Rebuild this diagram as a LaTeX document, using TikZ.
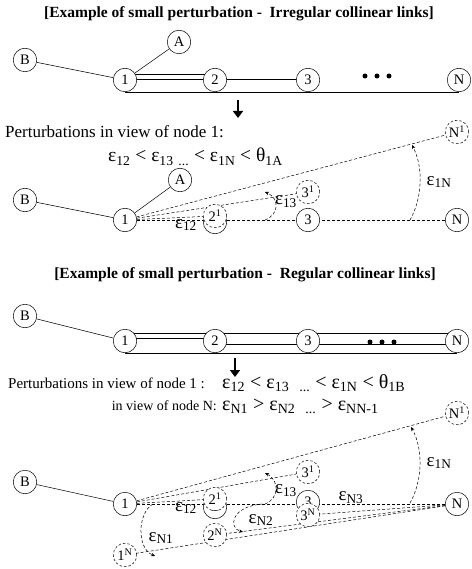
\documentclass[tikz,border=0pt]{standalone}
\usepackage{fontspec}
\setmainfont{Liberation Serif}
\usetikzlibrary{arrows.meta,backgrounds}

\newcommand{\epsub}[1]{ε\textsubscript{#1}}

\begin{document}
\begin{tikzpicture}[x=1pt,y=-1pt,
  every node/.style={font=\fontsize{14.5}{16}\selectfont},
  nd/.style={circle,draw,fill=white,line width=0.5pt,minimum size=23.5pt,inner sep=0pt},
  ghost/.style={nd,dash pattern=on 2.5pt off 2pt},
  lnk/.style={line width=0.5pt},
  dlnk/.style={line width=0.5pt,dash pattern=on 3pt off 2pt},
  ang/.style={dlnk,-{Stealth[length=4pt,width=3.5pt]}},
  dotnd/.style={circle,fill,inner sep=0pt,minimum size=5pt},
  lbl/.style={font=\fontsize{19}{21}\selectfont,inner sep=0pt},
  ttl/.style={font=\bfseries\fontsize{15.5}{17}\selectfont,inner sep=0pt,anchor=base},
  txt/.style={font=\fontsize{17}{19}\selectfont,inner sep=0pt,anchor=base west},
  bigarrow/.style={line width=2.8pt,-{Triangle[length=7pt,width=10pt]}}]
\useasboundingbox (0,0) rectangle (471,569);

% Title of the irregular case
\node[ttl] (t1) at (239,18) {[Example of small perturbation -\ \ Irregular collinear links]};

% Irregular collinear links
\node[nd] (aB) at (25,60) {B};
\node[nd] (aA) at (179,42) {A};
\node[nd] (a1) at (125,80) {1};
\node[nd] (a2) at (215,80) {2};
\node[nd] (a3) at (308,80) {3};
\node[nd] (aN) at (459,80) {N};
\foreach \i/\x in {1/365,2/377,3/389}
  \node[dotnd] (ad\i) at (\x,76) {};
\begin{scope}[on background layer]
\draw[lnk] (aB) -- (a1);
\draw[lnk] (aA) -- (a1);
\draw[lnk] ([yshift=6pt]a1.center) -- ([yshift=6pt]a2.center);
\draw[lnk] ([yshift=1pt]a1.center) -- ([yshift=1pt]a3.center);
\draw[lnk] (a1.south) -- (aN.south);
\end{scope}

\coordinate (ar1s) at (238,100);
\coordinate (ar1e) at (238,118);
\draw[bigarrow] (ar1s) -- (ar1e);

\node[txt] (pv1) at (5,138) {Perturbations in view of node 1:};
\node[txt,font=\fontsize{19.5}{21}\selectfont] (iq1) at (108,162)
  {\epsub{12} < \epsub{13} \textsubscript{...} < \epsub{1N} < θ\textsubscript{1A}};

% Perturbations seen from node 1
\node[nd] (bB) at (25,200) {B};
\node[nd] (bA) at (180,180) {A};
\node[nd] (b1) at (125,220) {1};
\node[nd] (b2) at (215,222) {2};
\node[nd] (b3) at (308,220) {3};
\node[nd] (bN) at (457,220) {N};
\node[ghost] (b2p) at (215,216) {2\textsuperscript{1}};
\node[ghost] (b3p) at (308,192) {3\textsuperscript{1}};
\node[ghost] (bNp) at (457,132) {N\textsuperscript{1}};
\begin{scope}[on background layer]
\draw[lnk] (bB) -- (b1);
\draw[lnk] (bA) -- (b1);
\draw[dlnk] (b1) -- (bN);
\draw[dlnk] (b1) -- (b2p);
\draw[dlnk] (b1) -- (b3p);
\draw[dlnk] (b1) -- (bNp);
\end{scope}
\draw[ang] (265,220) .. controls (280,214) and (279,198) .. (265,192);
\draw[ang] (410,220) .. controls (423,197) and (423,166) .. (412,145);
\node[lbl] (b12) at (186,225) {\epsub{12}};
\node[lbl] (b13) at (286,202) {\epsub{13}};
\node[lbl] (b1N) at (439,182) {\epsub{1N}};

% Title of the regular case
\node[ttl] (t2) at (245,278) {[Example of small perturbation -\ \ Regular collinear links]};

% Regular collinear links
\node[nd] (cB) at (25,316) {B};
\node[nd] (c1) at (125,341) {1};
\node[nd] (c2) at (215,341) {2};
\node[nd] (c3) at (308,341) {3};
\node[nd] (cN) at (457,341) {N};
\foreach \i/\x in {1/370,2/382,3/394}
  \node[dotnd] (cd\i) at (\x,342) {};
\begin{scope}[on background layer]
\draw[lnk] (cB) -- (c1);
\draw[lnk] ([yshift=8pt]c1.center) -- ([yshift=8pt]cN.center);
\draw[lnk] ([yshift=3pt]c1.center) -- ([yshift=3pt]c2.center);
\draw[lnk] ([yshift=-3pt]c2.center) -- ([yshift=-3pt]cN.center);
\draw[lnk] (c1.south) -- (cN.south);
\end{scope}

\coordinate (ar2s) at (235,358);
\coordinate (ar2e) at (235,377);
\draw[bigarrow] (ar2s) -- (ar2e);

\node[txt,font=\fontsize{15}{17}\selectfont] (pv2) at (8,388) {Perturbations in view of node 1 :};
\node[txt,font=\fontsize{20}{22}\selectfont] (iq2) at (222,388)
  {\epsub{12} < \epsub{13} \ \textsubscript{...} < \epsub{1N} < θ\textsubscript{1B}};
\node[txt,font=\fontsize{14}{16}\selectfont,anchor=base east] (pvN) at (217,410) {in view of node N:};
\node[txt,font=\fontsize{20}{22}\selectfont] (iqN) at (222,410)
  {\epsub{N1} > \epsub{N2} \ \textsubscript{...} > \epsub{NN-1}};

% Perturbations seen from node 1 and from node N
\node[nd] (dB) at (25,482) {B};
\node[nd] (d1) at (125,504) {1};
\node[nd] (d2) at (215,507) {2};
\node[nd] (d3) at (308,502) {3};
\node[nd] (dN) at (457,504) {N};
\node[ghost] (d2p) at (215,499) {2\textsuperscript{1}};
\node[ghost] (d3p) at (308,472) {3\textsuperscript{1}};
\node[ghost] (dNp) at (457,413) {N\textsuperscript{1}};
\node[ghost] (d3n) at (308,515) {3\textsuperscript{N}};
\node[ghost] (d2n) at (215,535) {2\textsuperscript{N}};
\node[ghost] (d1n) at (125,555) {1\textsuperscript{N}};
\begin{scope}[on background layer]
\draw[lnk] (dB) -- (d1);
\draw[dlnk] (d1) -- (dN);
\draw[dlnk] (d1) -- (d2p);
\draw[dlnk] (d1) -- (d3p);
\draw[dlnk] (d1) -- (dNp);
\draw[dlnk] (dN) -- (d3n);
\draw[dlnk] (dN) -- (d2n);
\draw[dlnk] (dN) -- (d1n);
\end{scope}
\draw[ang] (265,504) .. controls (280,498) and (279,480) .. (265,473);
\draw[ang] (410,503) .. controls (423,480) and (423,448) .. (411,427);
\draw[ang] (153,504) .. controls (138,512) and (136,548) .. (155,556);
\draw[ang] (263,504) .. controls (231,506) and (228,528) .. (243,532);
\node[lbl] (d12) at (186,508) {\epsub{12}};
\node[lbl] (d13) at (286,491) {\epsub{13}};
\node[lbl] (d1N) at (439,463) {\epsub{1N}};
\node[lbl] (dN3) at (351,498) {\epsub{N3}};
\node[lbl] (dN2) at (261,520) {\epsub{N2}};
\node[lbl] (dN1) at (161,538) {\epsub{N1}};
\end{tikzpicture}
\end{document}
